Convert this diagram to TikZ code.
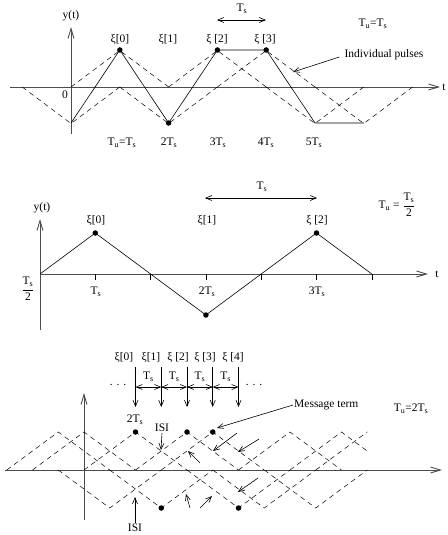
\documentclass[tikz,border=0pt]{standalone}
\usepackage{fontspec}
\setmainfont{Liberation Serif}
\usetikzlibrary{arrows.meta}
\newcommand{\Ts}{T\textsubscript{s}}
\newcommand{\Tu}{T\textsubscript{u}}
\tikzset{
  arr/.style={-{Straight Barb[length=6pt,width=5pt]}, semithick},
  dbl/.style={{Straight Barb[length=6pt,width=5pt]}-{Straight Barb[length=6pt,width=5pt]}, semithick},
  axis/.style={-{Straight Barb[length=10pt,width=6pt]}, line width=0.9pt, black!70},
  pulse/.style={dash pattern=on 5pt off 4pt, line width=0.5pt},
  sig/.style={semithick},
  msg/.style={circle, fill, inner sep=0pt, minimum size=5.5pt},
  lbl/.style={font=\fontsize{11.5}{13}\selectfont, inner sep=1pt},
}

\begin{document}
\begin{tikzpicture}[x=1pt, y=-1pt]
\useasboundingbox (0,0) rectangle (447,535);

% top: T_u = T_s
\draw[axis] (10,87) -- (440,87);
\draw[axis] (71,134) -- (71,27);
\node[lbl] (yt1) at (71,16) {y(t)};
\node[lbl] (t1)  at (444,87) {t};
\node[lbl] (o1)  at (65,95) {0};
\foreach \c/\s in {71/-1, 119.8/1, 168.6/-1, 217.4/1, 266.2/1, 315/-1, 363.8/-1}
  \draw[pulse] ({\c-48.8},87) -- ({\c},{87-36.5*(\s)}) -- ({\c+48.8},87);
\node[msg] (d0) at (119.8,50) {};
\node[msg] (d1) at (168.6,123) {};
\node[msg] (d2) at (217.4,50) {};
\node[msg] (d3) at (266.2,50) {};
\draw[sig] (71,123) -- (d0.center) -- (d1.center) -- (d2.center) -- (d3.center)
  -- (315,123) -- (363.8,123);
\node[lbl] (x0) at (120,39) {ξ[0]};
\node[lbl] (x1) at (168,39) {ξ[1]};
\node[lbl] (x2) at (217,39) {ξ [2]};
\node[lbl] (x3) at (265,39) {ξ [3]};
\node[lbl] (k1) at (122,143) {\Tu=\Ts};
\node[lbl] (k2) at (169,143) {2\Ts};
\node[lbl] (k3) at (218,143) {3\Ts};
\node[lbl] (k4) at (266,143) {4\Ts};
\node[lbl] (k5) at (314,143) {5\Ts};
\coordinate (ta) at (217,20);
\coordinate (tb) at (266,20);
\draw[dbl] (ta) -- (tb);
\node[lbl] (ts1) at (242,9) {\Ts};
\node[lbl] (tu1) at (373,24) {\Tu=\Ts};
\node[lbl] (ip) at (384,55) {Individual pulses};
\coordinate (ipt) at (293,72);
\draw[arr] ([xshift=-4pt,yshift=-2pt]ip.west) -- (ipt);

% middle: T_u = T_s/2
\draw[axis] (40,274) -- (428,274);
\draw[axis] (40,330) -- (40,219);
\node[lbl] (yt2) at (42,208) {y(t)};
\node[lbl] (t2)  at (437,274) {t};
\foreach \j in {1,...,6}
  \draw ({40+55.3*\j},274) -- ++(0,6);
\node[msg] (m0) at (95.3,233) {};
\node[msg] (m1) at (205.9,315) {};
\node[msg] (m2) at (316.5,233) {};
\draw[sig] (40,274) -- (m0.center) -- (150.6,274) -- (m1.center) -- (261.2,274)
  -- (m2.center) -- (371.8,274);
\node[lbl] (y0) at (96,220) {ξ[0]};
\node[lbl] (y1) at (207,220) {ξ[1]};
\node[lbl] (y2) at (317,220) {ξ [2]};
\node[lbl] (h1) at (96,292) {\Ts};
\node[lbl] (h2) at (207,292) {2\Ts};
\node[lbl] (h3) at (317,292) {3\Ts};
\node[lbl] (half) at (28,289) {$\displaystyle\frac{\mbox{\Ts}}{\mbox{2}}$};
\coordinate (ma) at (205,198);
\coordinate (mb) at (317,198);
\draw[dbl] (ma) -- (mb);
\node[lbl] (ts2) at (262,187) {\Ts};
\node[lbl] (tu2) at (397,205) {\Tu\ = $\displaystyle\frac{\mbox{\Ts}}{\mbox{2}}$};

% bottom: T_u = 2T_s
\draw[axis] (5,470) -- (442,470);
\draw[axis] (84,520) -- (84,393);
\begin{scope}
  \clip (0,400) rectangle (367.3,515);
  \foreach \k/\s in {-3/1,-2/1,-1/-1,0/1,1/-1,2/1,3/1,4/-1,5/-1,6/1,7/-1,8/1,9/1}
    \draw[pulse] ({135.5+25.75*\k-51.5},470) -- ({135.5+25.75*\k},{470-38*(\s)})
      -- ({135.5+25.75*\k+51.5},470);
\end{scope}
\node[msg] (b0) at (135.5,432) {};
\node[msg] (b1) at (161.25,508) {};
\node[msg] (b2) at (187,432) {};
\node[msg] (b3) at (212.75,432) {};
\node[msg] (b4) at (238.5,508) {};
\foreach \k in {0,...,4}
  \draw[arr] ({135.5+25.75*\k},367) -- ++(0,40);
\foreach \k in {0,...,3} {
  \draw[dbl] ({135.5+25.75*\k},387) -- ++(25.75,0);
  \node[lbl] at ({148.4+25.75*\k},377) {\Ts};
}
\node[lbl] (z0) at (124,357) {ξ[0]};
\node[lbl] (z1) at (151,357) {ξ[1]};
\node[lbl] (z2) at (178,357) {ξ [2]};
\node[lbl] (z3) at (205,357) {ξ [3]};
\node[lbl] (z4) at (233,357) {ξ [4]};
\node[lbl] (dl) at (118,385) {. . .};
\node[lbl] (dr) at (254,385) {. . .};
\node[lbl] (two) at (135,420) {2\Ts};
\node[lbl] (isi1) at (162,428) {ISI};
\coordinate (isi1t) at (161,450);
\draw[arr] (isi1.south) -- (isi1t);
\node[lbl] (isi2) at (135,528) {ISI};
\coordinate (isi2t) at (135,497);
\draw[arr] (isi2.north) -- (isi2t);
\node[lbl, anchor=west] (mt) at (293,405) {Message term};
\coordinate (mtt) at (217,428);
\draw[arr] (mt.west) -- (mtt);
\node[lbl] (tu3) at (411,409) {\Tu=2\Ts};
\draw[arr] (237,433) -- (213,451);
\draw[arr] (259,439) -- (238,452);
\draw[arr] (200,463) -- (188,451);
\draw[arr] (258,478) -- (238,492);
\draw[arr] (190,508) -- (186,494);
\draw[arr] (200,508) -- (212,496);
\end{tikzpicture}
\end{document}
